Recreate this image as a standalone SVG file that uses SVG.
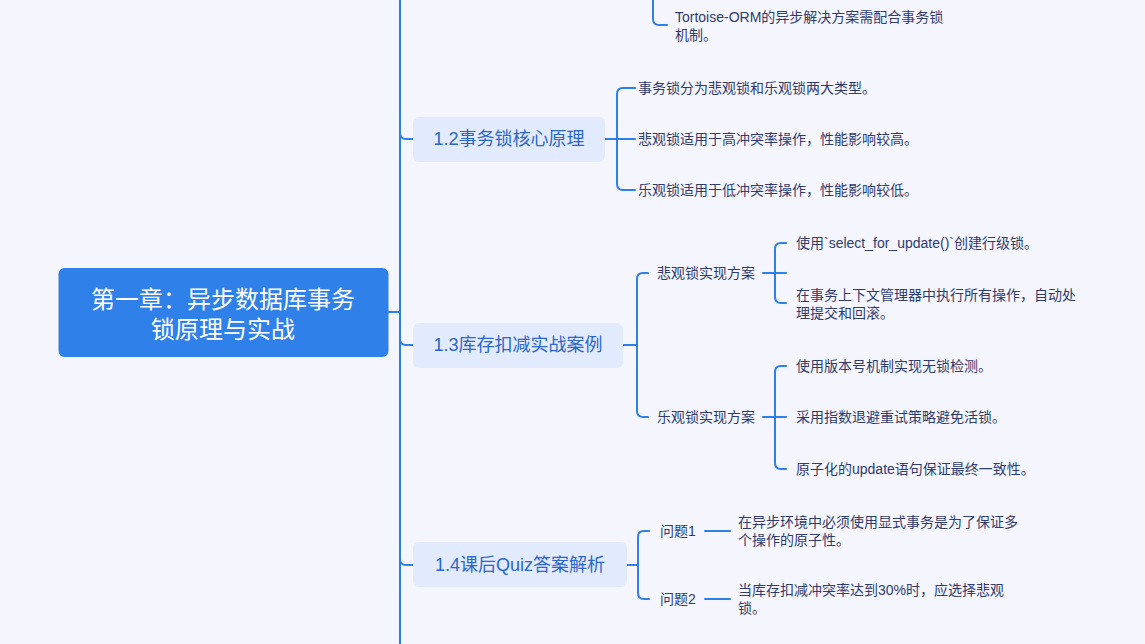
<svg xmlns="http://www.w3.org/2000/svg" width="1145" height="644" viewBox="0 0 1145 644">
<style>
text{font-family:"Liberation Sans","Noto Sans CJK SC",sans-serif;dominant-baseline:central}
.c{fill:none;stroke:#2f7fe8;stroke-width:2;stroke-linecap:round}
.n{fill:#e2eafd}
.nt{font-size:18px;fill:#2b66c9;text-anchor:middle}
.t{font-size:14px;fill:#2f3a6e}
.rt{font-size:24px;fill:#ffffff;text-anchor:middle}
</style>
<rect width="1145" height="644" fill="#f5f6fd"/>
<g id="connectors">
<path class="c" d="M400,0 V644"/>
<path class="c" d="M388,312 H400"/>
<path class="c" d="M400,133 Q400,139 406,139 H413"/>
<path class="c" d="M400,339 Q400,345 406,345 H413"/>
<path class="c" d="M400,559 Q400,565 406,565 H413"/>
<path class="c" d="M653,0 V19 Q653,25 659,25 H667"/>
<path class="c" d="M605,139 H635 M635,88 H623 Q617,88 617,94 V184 Q617,190 623,190 H635"/>
<path class="c" d="M623,345 H637 M648,273 H643 Q637,273 637,279 V411 Q637,417 643,417 H648"/>
<path class="c" d="M763,273 H786 M786,243 H781 Q775,243 775,249 V297 Q775,303 781,303 H786"/>
<path class="c" d="M763,417 H786 M786,366 H781 Q775,366 775,372 V463 Q775,469 781,469 H786"/>
<path class="c" d="M627,565 H638 M649,531 H644 Q638,531 638,537 V593 Q638,599 644,599 H649"/>
<path class="c" d="M705,531 H730 M705,599 H730"/>
</g>
<g id="root">
<rect x="58.5" y="268" width="330" height="89" rx="6" fill="#3080ea"/>
<text class="rt"><tspan x="223" y="299">第一章：异步数据库事务</tspan><tspan x="223" y="329">锁原理与实战</tspan></text>
</g>
<g id="n11-tail">
<text class="t"><tspan x="675" y="17">Tortoise-ORM的异步解决方案需配合事务锁</tspan><tspan x="675" y="35">机制。</tspan></text>
</g>
<g id="n12">
<rect class="n" x="413" y="117" width="192" height="45" rx="6"/>
<text class="nt" x="509" y="139">1.2事务锁核心原理</text>
</g>
<g id="n12a"><text class="t" x="638" y="88">事务锁分为悲观锁和乐观锁两大类型。</text></g>
<g id="n12b"><text class="t" x="638" y="139">悲观锁适用于高冲突率操作，性能影响较高。</text></g>
<g id="n12c"><text class="t" x="638" y="190">乐观锁适用于低冲突率操作，性能影响较低。</text></g>
<g id="n13">
<rect class="n" x="413" y="323" width="210" height="45" rx="6"/>
<text class="nt" x="518" y="345">1.3库存扣减实战案例</text>
</g>
<g id="n13a"><text class="t" x="657" y="273">悲观锁实现方案</text></g>
<g id="n13a1"><text class="t" x="796" y="243">使用`select_for_update()`创建行级锁。</text></g>
<g id="n13a2">
<text class="t"><tspan x="796" y="295">在事务上下文管理器中执行所有操作，自动处</tspan><tspan x="796" y="313">理提交和回滚。</tspan></text>
</g>
<g id="n13b"><text class="t" x="657" y="417">乐观锁实现方案</text></g>
<g id="n13b1"><text class="t" x="796" y="366">使用版本号机制实现无锁检测。</text></g>
<g id="n13b2"><text class="t" x="796" y="417">采用指数退避重试策略避免活锁。</text></g>
<g id="n13b3"><text class="t" x="796" y="469">原子化的update语句保证最终一致性。</text></g>
<g id="n14">
<rect class="n" x="413" y="542" width="214" height="45" rx="6"/>
<text class="nt" x="520" y="565">1.4课后Quiz答案解析</text>
</g>
<g id="q1"><text class="t" x="660" y="531">问题1</text></g>
<g id="q1a">
<text class="t"><tspan x="738" y="522">在异步环境中必须使用显式事务是为了保证多</tspan><tspan x="738" y="540">个操作的原子性。</tspan></text>
</g>
<g id="q2"><text class="t" x="660" y="599">问题2</text></g>
<g id="q2a">
<text class="t"><tspan x="738" y="590">当库存扣减冲突率达到30%时，应选择悲观</tspan><tspan x="738" y="608">锁。</tspan></text>
</g>
</svg>
